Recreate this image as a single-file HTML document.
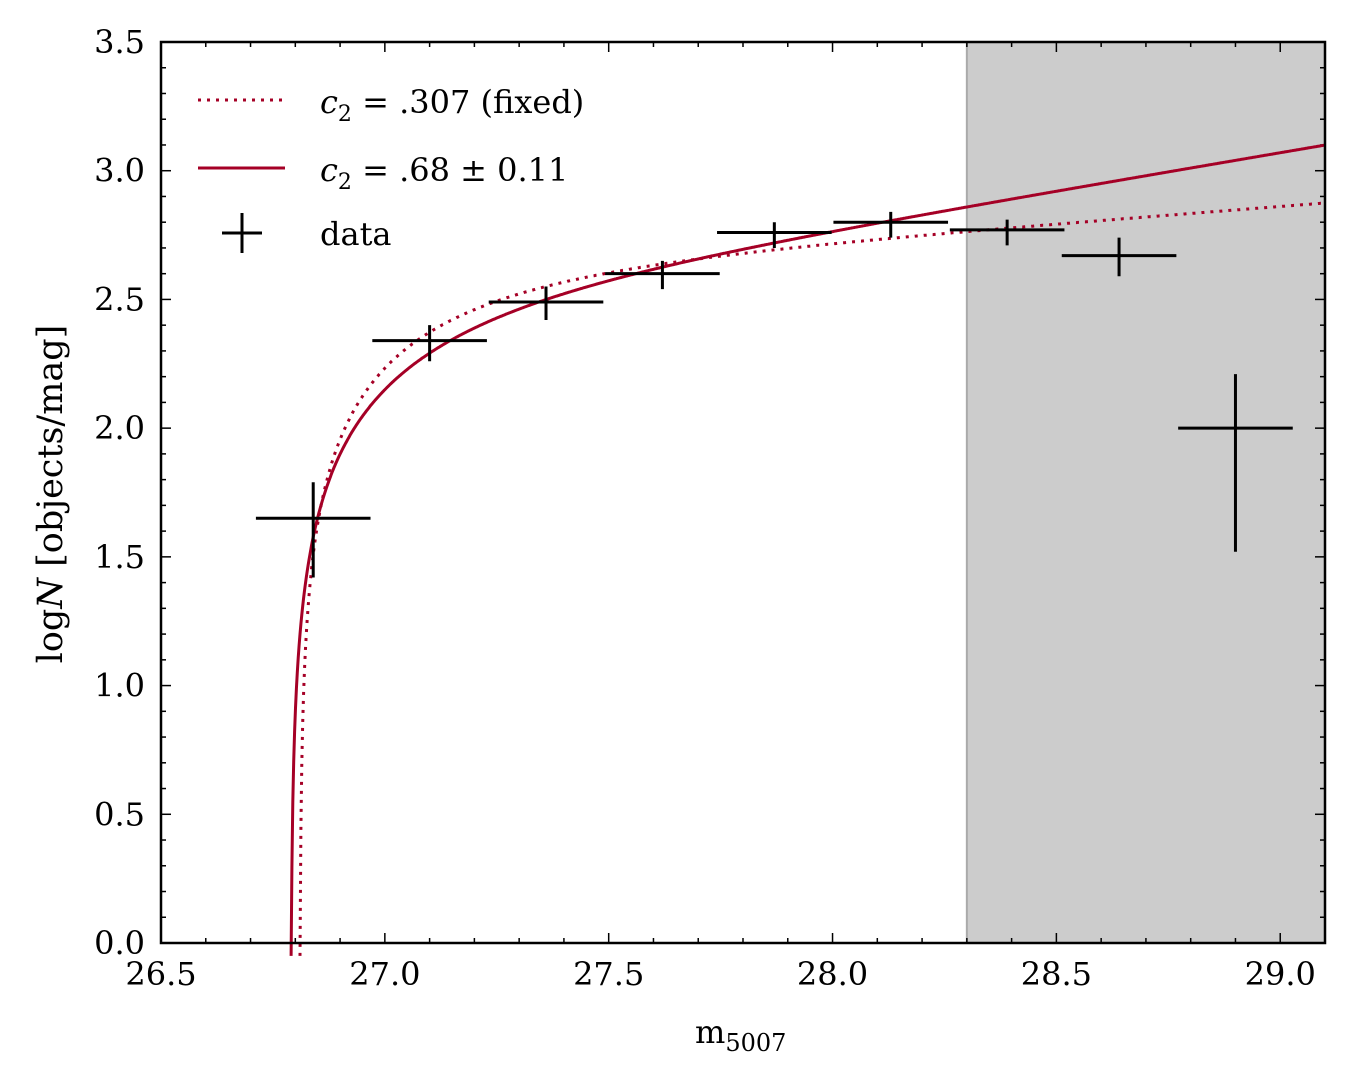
<!DOCTYPE html>
<html><head><meta charset="utf-8"><style>
body{margin:0;background:#fff}
svg text{font-family:"DejaVu Serif","Liberation Serif",serif;fill:#000}
</style></head><body>
<svg id="chart" width="1350" height="1078" xmlns="http://www.w3.org/2000/svg">
<rect id="shade" fill="#cccccc"/>
<g id="ticks"></g>
<g id="curves"></g>
<g id="pts"></g>
<rect x="161" y="42" width="1164" height="901" fill="none" stroke="#000" stroke-width="2.5"/>
<g>
<line x1="198" y1="100" x2="285" y2="100" stroke="#a50026" stroke-width="3" stroke-dasharray="3,6"/>
<text x="320" y="113" font-size="32"><tspan font-style="italic">c</tspan><tspan font-size="22" dy="8">2</tspan><tspan dy="-8"> = .307 (fixed)</tspan></text>
<line x1="198" y1="168" x2="285" y2="168" stroke="#a50026" stroke-width="3"/>
<text x="320" y="181" font-size="32"><tspan font-style="italic">c</tspan><tspan font-size="22" dy="8">2</tspan><tspan dy="-8"> = .68 ± 0.11</tspan></text>
<path d="M222 233H262M242 213V253" stroke="#000" stroke-width="3"/>
<text x="320" y="245" font-size="32">data</text>
</g>
<text x="695" y="1043" font-size="32">m<tspan font-size="24" dy="8">5007</tspan></text>
<text transform="translate(62,494) rotate(-90)" text-anchor="middle" font-size="35">log<tspan font-style="italic">N</tspan> [objects/mag]</text>
</svg>
<script>
const xMin=26.5,xMax=29.1,yMin=0,yMax=3.5;
const X=v=>161+(v-xMin)/(xMax-xMin)*1164;
const Y=v=>943-(v-yMin)/(yMax-yMin)*901;
const NS="http://www.w3.org/2000/svg";
const xTicks=["26.5","27.0","27.5","28.0","28.5","29.0"];
const yTicks=["0.0","0.5","1.0","1.5","2.0","2.5","3.0","3.5"];
const shadeStart=28.3;
const ptX=[26.84,27.10,27.36,27.62,27.87,28.13,28.39,28.64,28.90];
const ptY=[1.65,2.34,2.49,2.60,2.76,2.80,2.77,2.67,2.00];
const ptXErr=[0.128,0.128,0.128,0.128,0.128,0.128,0.128,0.128,0.128];
const ptYUp=[1.79,2.40,2.55,2.65,2.80,2.84,2.81,2.74,2.21];
const ptYLo=[1.42,2.26,2.42,2.54,2.70,2.74,2.71,2.59,1.52];
const fitC2=[0.307,0.68];
const fitM0=[26.81,26.79];
const fitEnd=[2.875,3.10];
const fitDash=["3,6",""];
function mk(tag,attrs,parent){const e=document.createElementNS(NS,tag);for(const k in attrs)e.setAttribute(k,attrs[k]);parent.appendChild(e);return e;}
const sh=document.getElementById('shade');
sh.setAttribute('x',X(shadeStart));sh.setAttribute('y',42);sh.setAttribute('width',1325-X(shadeStart));sh.setAttribute('height',901);
const tg=document.getElementById('ticks');
mk('line',{x1:X(shadeStart),x2:X(shadeStart),y1:42,y2:943,stroke:'#aaa','stroke-width':2},tg);
for(let i=0;i<=26;i++){const v=xMin+i*0.1,x=X(v),L=(i%5==0)?10:5;
mk('line',{x1:x,x2:x,y1:943,y2:943-L,stroke:'#000','stroke-width':1.5},tg);
mk('line',{x1:x,x2:x,y1:42,y2:42+L,stroke:'#000','stroke-width':1.5},tg);}
xTicks.forEach(t=>{const e=mk('text',{x:X(+t),y:985,'font-size':32,'text-anchor':'middle'},tg);e.textContent=t;

});
for(let i=0;i<=35;i++){const y=Y(i*0.1),L=(i%5==0)?10:5;
mk('line',{x1:161,x2:161+L,y1:y,y2:y,stroke:'#000','stroke-width':1.5},tg);
mk('line',{x1:1325,x2:1325-L,y1:y,y2:y,stroke:'#000','stroke-width':1.5},tg);}
yTicks.forEach(t=>{const e=mk('text',{x:145,y:Y(+t)+11,'font-size':32,'text-anchor':'end'},tg);e.textContent=t;

});
const cg=document.getElementById('curves');
for(let s=0;s<2;s++){const k=fitC2[s]*Math.LOG10E;let d="";let started=false;
for(let m=fitM0[s]+0.0005;m<=xMax;m+=0.002){const y=fitEnd[s]+k*(m-xMax)+Math.log10(1-Math.exp(3*(fitM0[s]-m)));
let yy=Math.max(y,-0.05);d+=(started?"L":"M")+X(m).toFixed(1)+" "+Y(yy).toFixed(1);started=true;}
const p=mk('path',{d:d,fill:'none',stroke:'#a50026','stroke-width':3,'stroke-dasharray':fitDash[s]},cg);

}
const pg=document.getElementById('pts');
ptX.forEach((v,i)=>{const p=mk('path',{d:`M${X(v-ptXErr[i])} ${Y(ptY[i])}H${X(v+ptXErr[i])}M${X(v)} ${Y(ptYUp[i])}V${Y(ptYLo[i])}`,stroke:'#000','stroke-width':3},pg);

});
</script>
</body></html>
